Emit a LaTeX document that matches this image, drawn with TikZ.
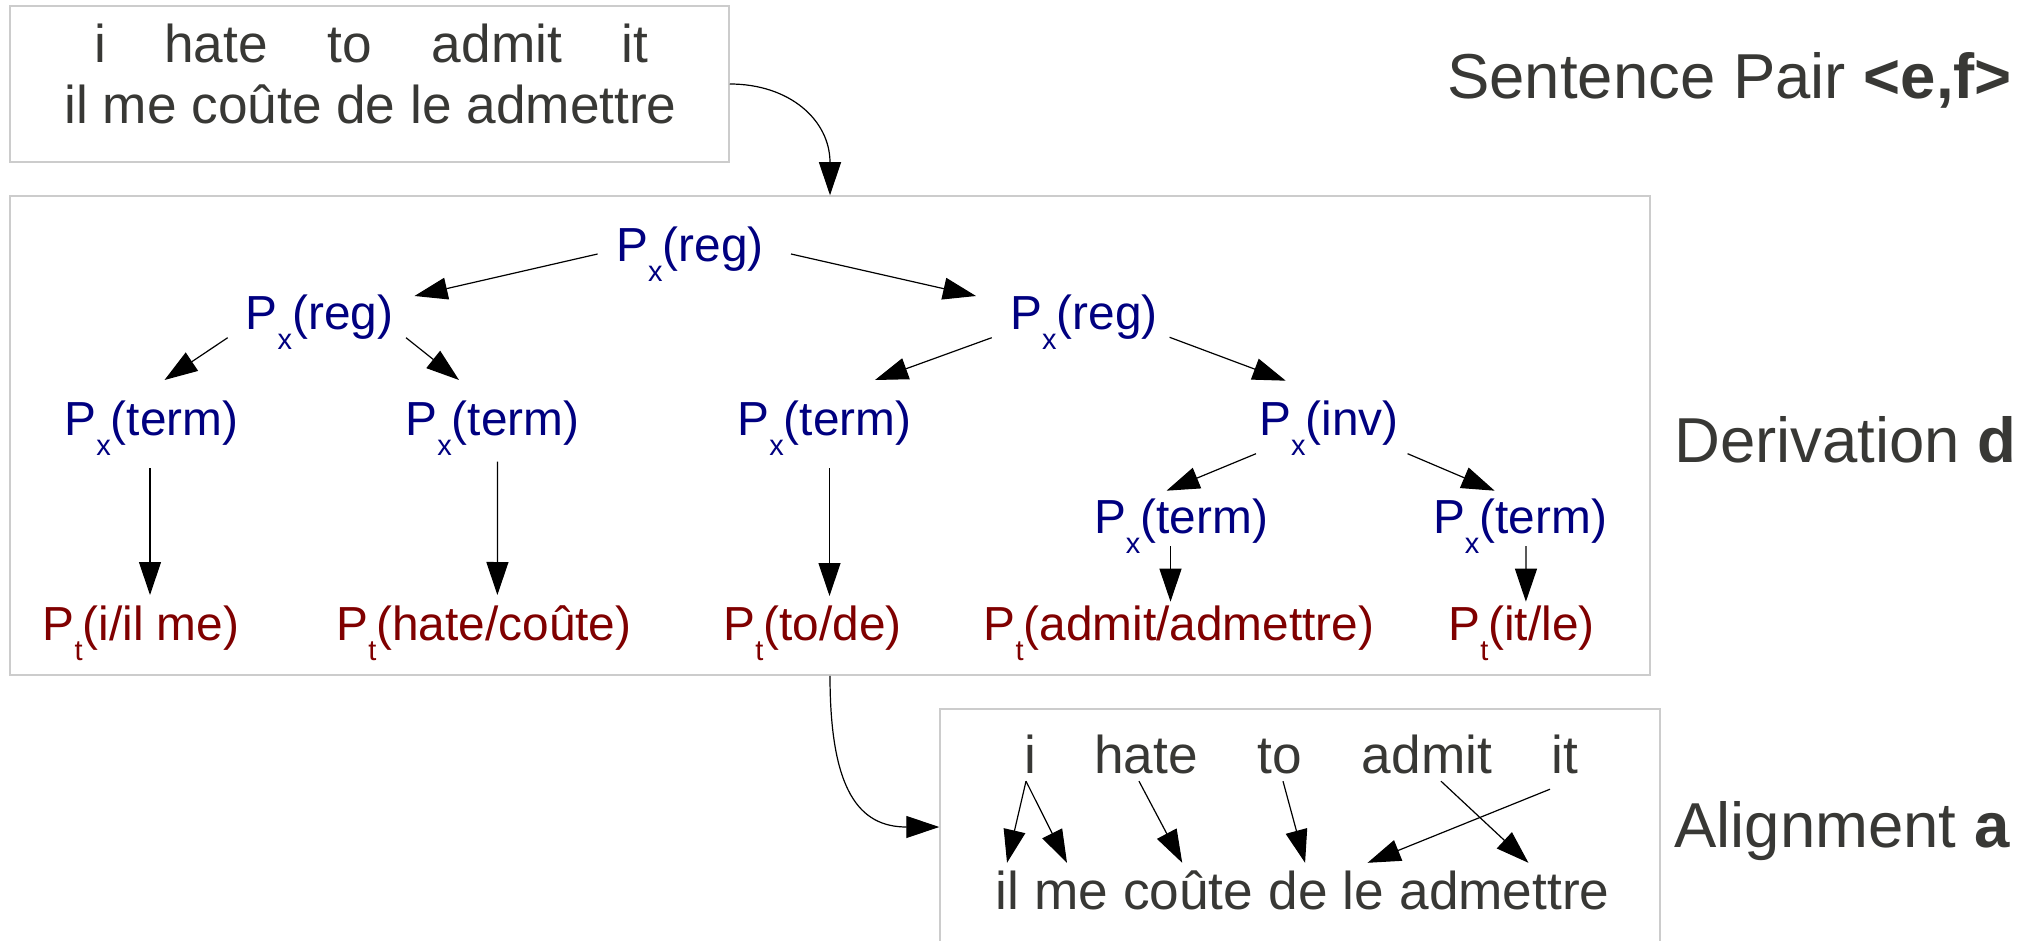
\documentclass[tikz,border=0pt]{standalone}
\usepackage{fontspec}
\setmainfont{Liberation Sans}
\usetikzlibrary{arrows.meta,calc}
\definecolor{txt}{HTML}{383835}
\definecolor{boxc}{HTML}{CCCCCC}
\definecolor{pxc}{HTML}{000080}
\definecolor{ptc}{HTML}{800000}
\newcommand\sbx[1]{\raisebox{-20pt}{\fontsize{29}{29}\selectfont #1}}
\begin{document}
\begin{tikzpicture}[x=1pt,y=-1pt,
  panel/.style={draw=boxc,line width=1.5pt,inner sep=0pt},
  sent/.style={font=\fontsize{53.2}{60}\selectfont,text=txt,inner sep=0pt},
  topw/.style={sent,anchor=base,text height=38pt,text depth=8pt},
  botw/.style={sent,anchor=base west,text height=46pt,text depth=0pt},
  px/.style={font=\fontsize{47.8}{50}\selectfont,text=pxc,inner sep=0pt,anchor=base},
  pt/.style={px,text=ptc},
  lab/.style={font=\fontsize{63.5}{70}\selectfont,text=txt,inner sep=0pt,anchor=base west},
  arr/.style={draw=black,line width=1.2pt,-{Triangle[length=33pt,width=22pt]}},
]
\fill[white] (0,0) rectangle (2027,941);
\useasboundingbox (0,0) rectangle (2027,941);

% panels
\node[panel,minimum width=719pt,minimum height=156pt] (box1) at (369.5,84) {};
\node[panel,minimum width=1640pt,minimum height=479pt] (box2) at (830,435.5) {};
\node[panel,minimum width=720pt,minimum height=236pt] (box3) at (1300,827) {};

% side labels
\node[lab] (l1) at (1447,99) {Sentence Pair \textbf{<e,f>}};
\node[lab] (l2) at (1674,462) {Derivation \textbf{d}};
\node[lab] (l3) at (1674,847) {Alignment \textbf{a}};

% sentence pair
\node[topw] (e1) at (100,63) {i};
\node[topw] (e2) at (216,63) {hate};
\node[topw] (e3) at (350,63) {to};
\node[topw] (e4) at (497,63) {admit};
\node[topw] (e5) at (635,63) {it};
\node[sent,anchor=base] (f0) at (370.5,124) {il me coûte de le admettre};

% derivation tree
\node[px] (r)   at (690,262)    {P\sbx{x}(reg)};
\node[px] (lr)  at (319.5,330)  {P\sbx{x}(reg)};
\node[px] (rr)  at (1084,330)   {P\sbx{x}(reg)};
\node[px] (t1)  at (151.5,435)  {P\sbx{x}(term)};
\node[px] (t2)  at (492.5,435)  {P\sbx{x}(term)};
\node[px] (t3)  at (824.5,435)  {P\sbx{x}(term)};
\node[px] (inv) at (1329,435)   {P\sbx{x}(inv)};
\node[px] (t4)  at (1181,533)   {P\sbx{x}(term)};
\node[px] (t5)  at (1520,533)   {P\sbx{x}(term)};
\node[pt] (q1)  at (141,640)    {P\sbx{t}(i/il me)};
\node[pt] (q2)  at (484,640)    {P\sbx{t}(hate/coûte)};
\node[pt] (q3)  at (812.5,640)  {P\sbx{t}(to/de)};
\node[pt] (q4)  at (1179,640)   {P\sbx{t}(admit/admettre)};
\node[pt] (q5)  at (1521.5,640) {P\sbx{t}(it/le)};

\draw[arr] ($(r.base)+(-92.4,-8)$) -- ($(lr.base)+(95,-34)$);
\draw[arr] ($(r.base)+(101,-8)$) -- ($(rr.base)+(-108,-34)$);
\draw[arr] ($(lr.base)+(-91.8,7.7)$) -- ($(t1.base)+(13,-55)$);
\draw[arr] ($(lr.base)+(86.5,7.7)$) -- ($(t2.base)+(-33.5,-55)$);
\draw[arr] ($(rr.base)+(-92.3,7.7)$) -- ($(t3.base)+(50.5,-55)$);
\draw[arr] ($(rr.base)+(85.6,7.3)$) -- ($(inv.base)+(-43.3,-54.3)$);
\draw[arr] ($(t1.base)+(-1.5,33)$) -- ($(q1.base)+(9,-45)$);
\draw[arr] ($(t2.base)+(5,26.7)$) -- ($(q2.base)+(13.4,-45)$);
\draw[arr] ($(t3.base)+(5,33)$) -- ($(q3.base)+(17,-44)$);
\draw[arr] ($(inv.base)+(-73,18.7)$) -- ($(t4.base)+(-14.5,-42.3)$);
\draw[arr] ($(inv.base)+(78.6,18.7)$) -- ($(t5.base)+(-25.4,-42.3)$);
\draw[arr] ($(t4.base)+(-10.5,13)$) -- ($(q4.base)+(-8.5,-38.3)$);
\draw[arr] ($(t5.base)+(6,13)$) -- ($(q5.base)+(4.4,-38.3)$);

% alignment
\node[topw] (ai)     at (1030,773) {i};
\node[topw] (ahate)  at (1146,773) {hate};
\node[topw] (ato)    at (1280,773) {to};
\node[topw] (aadmit) at (1427,773) {admit};
\node[topw] (ait)    at (1565,773) {it};
\node[botw] (bil) at (995,909) {il};
\node[botw] (bme) at ($(bil.base east)+(14.8,0)$) {me};
\node[botw] (bcoute) at ($(bme.base east)+(14.8,0)$) {coûte};
\node[botw] (bde) at ($(bcoute.base east)+(14.8,0)$) {de};
\node[botw] (ble) at ($(bde.base east)+(14.8,0)$) {le};
\node[botw] (badm) at ($(ble.base east)+(14.8,0)$) {admettre};

\draw[arr] ($(ai.south)+(-4,0)$) -- (bil.north);
\draw[arr] ($(ai.south)+(-4,0)$) -- ($(bme.north)+(-4,0)$);
\draw[arr] ($(ahate.south)+(-7,0)$) -- ($(bcoute.north)+(-6,0)$);
\draw[arr] ($(ato.south)+(3,0)$) -- ($(bde.north)+(7,0)$);
\draw[arr] ($(aadmit.south)+(14,0)$) -- ($(badm.north)+(24,0)$);
\draw[arr] ($(ait.south)+(-15,8)$) -- ($(ble.north)+(4,0)$);

% panel connectors
\draw[arr] (box1.east) .. controls +(60,0) and +(0,-75) .. (box2.north);
\draw[arr] (box2.south) .. controls +(0,115) and +(-80,0) .. (box3.west);
\end{tikzpicture}
\end{document}
